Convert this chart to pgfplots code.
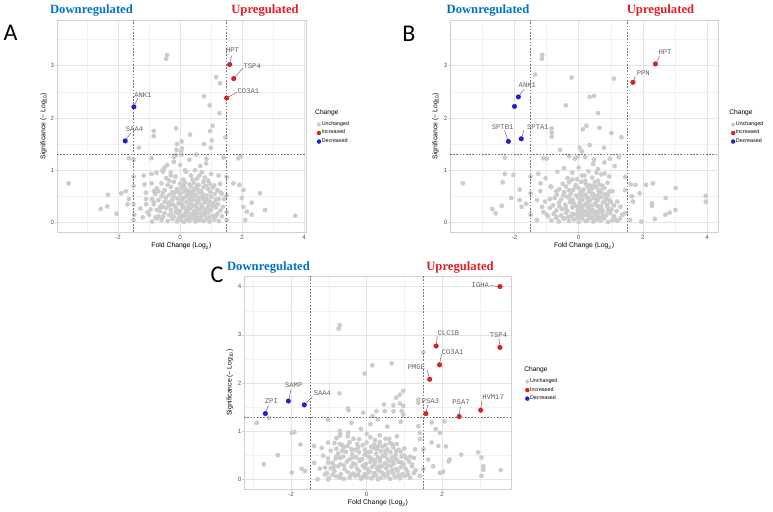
\documentclass[border=0pt]{standalone}
\usepackage{fontspec}
\setmainfont{Liberation Sans}
\newfontfamily\genefont{Liberation Mono}
\newfontfamily\titlefont{Liberation Serif}
\newfontfamily\letterfont{Carlito}
\usepackage{pgfplots}
\pgfplotsset{compat=1.18}

\definecolor{ptgray}{RGB}{204,204,204}
\definecolor{upred}{RGB}{232,30,30}
\definecolor{downblue}{RGB}{30,30,228}
\definecolor{titleblue}{RGB}{0,114,206}
\definecolor{titlered}{RGB}{232,28,36}
\definecolor{gridc}{RGB}{228,228,228}
\definecolor{gridm}{RGB}{241,241,241}
\definecolor{borderc}{RGB}{208,208,208}

\pgfplotsset{legend image code/.code={\draw[#1,mark size=1.5pt] plot coordinates {(0pt,0pt)};}}
\pgfplotsset{
 volc/.style={
  scale only axis, anchor=south west, clip mode=individual,
  axis line style={draw=borderc, line width=0.55pt},
  xmajorgrids, ymajorgrids, xminorgrids, yminorgrids,
  major grid style={draw=gridc, line width=0.45pt},
  minor grid style={draw=gridm, line width=0.3pt},
  major tick style={draw=borderc, line width=0.45pt},
  major tick length=1.6pt, minor tick length=0pt, tick align=outside,
  tick pos=left,
  tick label style={font=\fontsize{4.6}{5}\selectfont, text=black!68},
  xticklabel style={yshift=2.6pt},
  yticklabel style={xshift=3pt},
  label style={font=\fontsize{5.1}{6}\selectfont},
  xlabel={Fold Change (Log\textsubscript{2})},
  ylabel={Significance (− Log\textsubscript{10})},
  xlabel style={at={(axis description cs:0.5,-0.066)}, anchor=center, inner sep=0pt},
  ylabel style={at={(axis description cs:-0.054,0.5)}, anchor=center, inner sep=0pt},
  legend cell align=left,
  legend style={draw=none, fill=none, font=\fontsize{4}{4.5}\selectfont, anchor=north west, inner sep=0pt, row sep=0.8pt, nodes={inner sep=0.6pt}},
  minor xtick={-3,-1,1,3}, minor ytick={0.5,1.5,2.5,3.5},
 },
 gpts/.style={only marks, mark=*, mark size=1.7pt, color=ptgray, mark options={draw=ptgray, fill=ptgray, line width=0.1pt}},
 rpts/.style={only marks, mark=*, mark size=1.75pt, color=upred, mark options={draw=upred!75!black, line width=0.2pt, fill=upred}},
 bpts/.style={only marks, mark=*, mark size=1.75pt, color=downblue, mark options={draw=downblue!75!black, line width=0.2pt, fill=downblue}},
}
\tikzset{
 thr/.style={draw=black!55, line width=0.45pt, dash pattern=on 1.2pt off 1.2pt},
 lnk/.style={draw=black!60, line width=0.35pt},
 gl/.style={font=\genefont\fontsize{5.4}{6}\selectfont, text=black!62, inner sep=0.4pt},
 chg/.style={font=\fontsize{5}{6}\selectfont, anchor=west, inner sep=0pt},
}

\begin{document}
\begin{tikzpicture}
\path[use as bounding box] (0,0) rectangle (579.75pt,-383.25pt);

% ---------------- Panel A ----------------
\begin{axis}[volc, at={(42.75pt,-174pt)}, width=186.75pt, height=159pt,
  xmin=-3.97, xmax=4.06, ymin=-0.18, ymax=3.87,
  xtick={-2,0,2,4}, xticklabels={-2,0,2,4}, ytick={0,1,2,3}, yticklabels={0,1,2,3},
  legend style={at={(axis description cs:1.043,0.526)}}]
\addplot[gpts] coordinates {
(-0.9,0.02) (-0.6,0.05) (-0.4,0.03) (-0.25,0.07) (-0.1,0.02) (0.0,0.05) (0.12,0.01) (0.2,0.06) (0.3,0.03) (0.42,0.08) (0.5,0.02) (0.62,0.05) (0.75,0.03) (0.85,0.07) (0.95,0.02) (1.1,0.06) (1.25,0.03) (-0.75,0.08) (0.35,0.09) (0.05,0.1)
(-1.0,0.15) (-0.7,0.12) (-0.5,0.18) (-0.35,0.14) (-0.2,0.11) (-0.05,0.17) (0.08,0.13) (0.18,0.19) (0.28,0.12) (0.38,0.16) (0.48,0.13) (0.58,0.18) (0.68,0.11) (0.8,0.15) (0.9,0.19) (1.05,0.13) (1.2,0.17) (1.35,0.12) (-0.15,0.2) (0.52,0.2)
(-0.95,0.25) (-0.65,0.22) (-0.45,0.28) (-0.3,0.24) (-0.12,0.26) (0.0,0.22) (0.1,0.29) (0.22,0.24) (0.33,0.27) (0.45,0.22) (0.55,0.28) (0.65,0.25) (0.78,0.21) (0.88,0.27) (1.0,0.24) (1.15,0.29) (1.3,0.23) (-0.55,0.3) (0.27,0.31)
(-0.85,0.35) (-0.6,0.33) (-0.4,0.38) (-0.22,0.34) (-0.05,0.37) (0.08,0.32) (0.2,0.39) (0.32,0.35) (0.42,0.33) (0.55,0.38) (0.68,0.34) (0.8,0.39) (0.92,0.33) (1.08,0.37) (1.22,0.35) (-0.3,0.4) (0.6,0.41)
(-0.9,0.45) (-0.7,0.43) (-0.45,0.48) (-0.25,0.44) (-0.08,0.46) (0.05,0.42) (0.18,0.49) (0.3,0.44) (0.4,0.47) (0.52,0.43) (0.65,0.48) (0.75,0.45) (0.88,0.42) (1.0,0.49) (1.15,0.44) (0.25,0.52)
(-0.8,0.55) (-0.55,0.57) (-0.35,0.53) (-0.15,0.58) (0.0,0.54) (0.12,0.59) (0.25,0.55) (0.38,0.57) (0.5,0.53) (0.62,0.58) (0.72,0.55) (0.85,0.52) (0.98,0.58) (1.12,0.55)
(-0.75,0.65) (-0.5,0.62) (-0.3,0.68) (-0.1,0.64) (0.05,0.67) (0.2,0.63) (0.35,0.69) (0.48,0.65) (0.6,0.62) (0.75,0.68) (0.9,0.64) (1.05,0.67) (1.2,0.62)
(-0.6,0.75) (-0.4,0.72) (-0.2,0.78) (0.0,0.74) (0.15,0.77) (0.3,0.73) (0.45,0.76) (0.6,0.72) (0.75,0.78) (0.95,0.74) (1.1,0.71)
(-0.45,0.85) (-0.15,0.88) (0.1,0.82) (0.35,0.9) (0.55,0.84) (0.8,0.86) (1.0,0.93) (-0.3,0.95) (0.2,0.97) (0.7,0.96)
(-0.5,1.05) (0.0,1.1) (0.3,1.2) (0.65,1.08) (-0.2,1.25) (0.85,1.22)
(-0.8,0.1) (-0.55,0.11) (-0.3,0.16) (-0.05,0.08) (0.15,0.14) (0.25,0.2) (0.4,0.12) (0.55,0.09) (0.7,0.17) (0.82,0.24) (0.95,0.1) (1.15,0.12) (-0.65,0.3) (-0.35,0.32) (-0.15,0.3) (0.05,0.35) (0.15,0.28) (0.38,0.42) (0.5,0.31) (0.72,0.3) (0.85,0.45) (1.05,0.31) (-0.5,0.4) (-0.2,0.5) (0.1,0.47) (0.35,0.5) (0.58,0.47) (0.78,0.5) (0.95,0.4) (1.25,0.45) (-0.6,0.5) (-0.05,0.6) (0.3,0.6) (0.68,0.6) (1.3,0.58) (-0.25,0.58) (0.45,0.62) (0.82,0.7) (-0.85,0.6) (0.12,0.7) (0.55,0.7) (-0.35,0.8) (0.9,0.8) (1.38,0.3) (1.42,0.45) (-1.1,0.35) (-1.2,0.1) (-1.1,0.45) (0.4,0.82) (0.62,0.9)
(-0.42,3.2) (-0.45,3.13) (-0.85,1.75) (-0.85,1.65) (-0.13,1.8) (-0.12,1.39) (-1.33,1.43) (-1.65,1.23) (-1.5,1.2) (-3.6,0.75) (-2.33,0.53) (-2.56,0.26) (-2.35,0.31) (-2.05,0.17) (-1.9,0.56) (-1.75,0.6) (-1.65,0.45) (-1.7,0.35) (-1.5,0.88) (-1.5,0.7) (-1.5,0.35) (-1.48,0.15) (-1.5,0.05) (-1.17,0.9) (-0.92,0.93) (-0.76,0.95) (-0.55,0.97) (-1.15,0.73) (-0.92,0.75) (-0.7,0.6) (-1.1,0.57) (-1.28,0.27) (-1.05,0.2) (-0.85,0.39) (-0.75,0.24) (-0.42,1.1) (-0.2,1.16) (-0.13,1.29) (-0.1,1.5) (-0.92,1.23) (-0.57,1.0) (-0.3,0.9)
(1.16,2.78) (1.29,2.66) (0.77,2.41) (0.95,2.24) (1.27,2.09) (1.05,1.85) (0.97,1.75) (0.32,1.68) (1.02,1.57) (1.46,1.63) (0.77,1.5) (0.99,1.43) (0.05,1.55) (0.06,1.42) (0.03,1.36) (0.05,1.3) (0.52,1.3) (0.84,1.13) (1.96,1.27) (1.88,1.23) (1.4,1.24) (0.16,1.0) (0.48,1.0) (1.24,0.9) (1.29,0.74) (1.34,0.55) (1.5,0.87) (1.5,0.52) (1.5,0.2) (1.5,0.05) (1.72,0.75) (1.91,0.72) (2.04,0.62) (2.58,0.56) (1.99,0.47) (2.31,0.38) (2.04,0.3) (2.74,0.24) (2.15,0.21) (2.31,0.15) (3.71,0.13) (2.1,0.05)
};
\addlegendentry{Unchanged}
\draw[thr] (axis cs:-1.5,-0.18) -- (axis cs:-1.5,3.87);
\draw[thr] (axis cs:1.5,-0.18) -- (axis cs:1.5,3.87);
\draw[thr] (axis cs:-3.97,1.301) -- (axis cs:4.06,1.301);
\draw[lnk] (axis cs:1.6,3.02) -- (axis cs:1.66,3.19);
\draw[lnk] (axis cs:1.73,2.75) -- (axis cs:2.02,2.95);
\draw[lnk] (axis cs:1.5,2.38) -- (axis cs:1.83,2.49);
\draw[lnk] (axis cs:-1.49,2.21) -- (axis cs:-1.36,2.38);
\draw[lnk] (axis cs:-1.77,1.56) -- (axis cs:-1.58,1.72);
\addplot[rpts] coordinates {(1.6,3.02) (1.73,2.75) (1.5,2.38)};
\addlegendentry{Increased}
\addplot[bpts] coordinates {(-1.49,2.21) (-1.77,1.56)};
\addlegendentry{Decreased}
\node[gl] at (axis cs:1.69,3.29) {HPT};
\node[gl,anchor=west] at (axis cs:2.02,2.99) {TSP4};
\node[gl,anchor=west] at (axis cs:1.83,2.51) {CO3A1};
\node[gl] at (axis cs:-1.2,2.44) {ANK1};
\node[gl] at (axis cs:-1.47,1.79) {SAA4};
\node[chg] at (axis description cs:1.036,0.561) {Change};
\end{axis}

% ---------------- Panel B ----------------
\begin{axis}[volc, at={(337.5pt,-174pt)}, width=201pt, height=159pt,
  xmin=-4.01, xmax=4.34, ymin=-0.18, ymax=3.87,
  xtick={-2,0,2,4}, xticklabels={-2,0,2,4}, ytick={0,1,2,3}, yticklabels={0,1,2,3},
  legend style={at={(axis description cs:1.048,0.526)}}]
\addplot[gpts] coordinates {
(-0.85,0.04) (-0.62,0.02) (-0.48,0.08) (-0.3,0.03) (-0.15,0.06) (0.0,0.01) (0.1,0.07) (0.22,0.03) (0.33,0.09) (0.45,0.02) (0.55,0.06) (0.68,0.04) (0.8,0.08) (0.92,0.01) (1.05,0.05) (1.2,0.03) (-0.7,0.09) (0.28,0.05) (-0.05,0.09) (0.62,0.1)
(-0.95,0.12) (-0.78,0.17) (-0.55,0.14) (-0.4,0.19) (-0.22,0.12) (-0.08,0.16) (0.05,0.19) (0.15,0.13) (0.27,0.17) (0.38,0.11) (0.5,0.16) (0.6,0.13) (0.72,0.19) (0.85,0.14) (0.98,0.18) (1.1,0.12) (0.4,0.2) (-0.32,0.11)
(-0.9,0.28) (-0.7,0.23) (-0.52,0.26) (-0.35,0.22) (-0.2,0.29) (-0.03,0.24) (0.08,0.27) (0.2,0.22) (0.3,0.29) (0.42,0.25) (0.53,0.21) (0.65,0.27) (0.75,0.23) (0.9,0.29) (1.02,0.25) (1.18,0.22) (0.13,0.31)
(-0.8,0.33) (-0.62,0.38) (-0.42,0.34) (-0.27,0.39) (-0.1,0.32) (0.03,0.37) (0.18,0.34) (0.28,0.39) (0.4,0.33) (0.5,0.36) (0.63,0.31) (0.75,0.38) (0.88,0.34) (1.0,0.39) (0.57,0.41)
(-0.75,0.47) (-0.55,0.44) (-0.35,0.49) (-0.18,0.43) (-0.02,0.48) (0.12,0.44) (0.25,0.49) (0.36,0.43) (0.48,0.47) (0.6,0.44) (0.72,0.49) (0.85,0.45) (0.97,0.42) (0.1,0.52)
(-0.68,0.53) (-0.45,0.58) (-0.25,0.55) (-0.08,0.52) (0.06,0.57) (0.2,0.53) (0.32,0.59) (0.45,0.55) (0.58,0.52) (0.7,0.58) (0.83,0.54) (0.95,0.59)
(-0.6,0.64) (-0.4,0.69) (-0.18,0.62) (0.0,0.66) (0.15,0.63) (0.28,0.68) (0.4,0.64) (0.55,0.67) (0.68,0.62) (0.8,0.66) (-0.85,0.68)
(-0.5,0.74) (-0.3,0.77) (-0.1,0.72) (0.08,0.78) (0.22,0.74) (0.35,0.71) (0.5,0.77) (0.65,0.73) (0.9,0.76)
(-0.35,0.85) (-0.05,0.83) (0.18,0.9) (0.42,0.86) (0.7,0.92) (0.95,0.88) (0.3,0.98) (-0.2,0.95)
(0.0,1.05) (0.45,1.12) (-0.12,1.22) (0.2,1.25) (0.8,1.15) (0.6,1.02)
(-0.7,0.11) (-0.45,0.08) (-0.2,0.17) (0.0,0.12) (0.12,0.21) (0.3,0.14) (0.45,0.09) (0.6,0.2) (0.75,0.12) (0.92,0.22) (1.12,0.07) (-0.6,0.31) (-0.4,0.28) (-0.15,0.36) (0.0,0.3) (0.25,0.36) (0.35,0.24) (0.55,0.33) (0.7,0.3) (0.82,0.42) (1.1,0.33) (-0.48,0.52) (-0.25,0.45) (0.05,0.42) (0.3,0.46) (0.42,0.52) (0.65,0.5) (0.9,0.51) (1.2,0.4) (-0.9,0.45) (-0.3,0.62) (0.1,0.6) (0.35,0.63) (0.62,0.6) (1.05,0.6) (-0.1,0.68) (0.48,0.7) (0.75,0.7) (-0.7,0.6) (0.2,0.8) (-0.2,0.82) (0.6,0.8) (1.3,0.3) (1.35,0.15) (-1.1,0.2) (-1.05,0.4) (-1.2,0.6) (0.1,0.9) (0.55,0.95)
(-1.14,3.2) (-1.15,3.13) (-1.36,2.83) (-0.22,2.77) (-0.4,2.24) (-0.84,1.8) (-0.84,1.72) (-0.84,1.64) (-0.58,1.39) (-0.3,1.27) (-0.04,1.26) (-1.1,1.23) (-1.0,1.22) (-2.3,1.24) (-3.61,0.75) (-2.3,0.93) (-2.04,0.91) (-2.37,0.77) (-2.1,0.47) (-1.84,0.43) (-1.84,0.63) (-2.69,0.26) (-2.59,0.18) (-2.4,0.32) (-1.78,0.3) (-1.64,0.36) (-1.5,0.88) (-1.5,0.56) (-1.5,0.15) (-1.26,0.93) (-1.19,0.75) (-1.03,0.85) (-0.88,0.69) (-0.67,0.97) (-0.46,1.04) (-1.3,0.43) (-1.14,0.3) (-1.3,0.05) (-0.99,0.15)
(1.1,2.75) (0.34,2.4) (0.48,2.42) (0.6,2.09) (0.24,1.85) (0.13,1.78) (0.65,1.81) (1.02,1.71) (1.33,1.63) (0.34,1.48) (0.79,1.43) (0.03,1.43) (0.1,1.36) (1.25,1.25) (0.97,1.22) (0.48,1.2) (1.12,1.08) (0.81,0.94) (1.62,0.73) (1.77,0.72) (2.1,0.72) (2.31,0.75) (1.9,0.56) (1.69,0.4) (2.28,0.37) (2.28,0.32) (2.71,0.47) (3.02,0.66) (1.66,0.5) (3.96,0.51) (3.96,0.4) (3.01,0.24) (2.83,0.19) (2.7,0.15) (2.37,0.07) (1.95,0.02) (1.6,0.05) (1.29,0.08) (1.45,0.87) (1.45,0.62) (1.45,0.18)
};
\addlegendentry{Unchanged}
\draw[thr] (axis cs:-1.5,-0.18) -- (axis cs:-1.5,3.87);
\draw[thr] (axis cs:1.5,-0.18) -- (axis cs:1.5,3.87);
\draw[thr] (axis cs:-4.01,1.301) -- (axis cs:4.34,1.301);
\draw[lnk] (axis cs:2.39,3.03) -- (axis cs:2.52,3.17);
\draw[lnk] (axis cs:1.69,2.68) -- (axis cs:1.77,2.8);
\draw[lnk] (axis cs:-1.88,2.4) -- (axis cs:-1.7,2.55);
\draw[lnk] (axis cs:-2.19,1.55) -- (axis cs:-2.31,1.76);
\draw[lnk] (axis cs:-1.79,1.6) -- (axis cs:-1.71,1.76);
\addplot[rpts] coordinates {(2.39,3.03) (1.69,2.68)};
\addlegendentry{Increased}
\addplot[bpts] coordinates {(-1.88,2.4) (-2.0,2.22) (-2.19,1.55) (-1.79,1.6)};
\addlegendentry{Decreased}
\node[gl] at (axis cs:2.69,3.26) {HPT};
\node[gl] at (axis cs:2.01,2.86) {PPN};
\node[gl] at (axis cs:-1.6,2.63) {ANK1};
\node[gl] at (axis cs:-2.37,1.83) {SPTB1};
\node[gl] at (axis cs:-1.27,1.83) {SPTA1};
\node[chg] at (axis description cs:1.041,0.561) {Change};
\end{axis}

% ---------------- Panel C ----------------
\begin{axis}[volc, at={(183.15pt,-366.7pt)}, width=200.6pt, height=159.4pt,
  xmin=-3.24, xmax=3.84, ymin=-0.19, ymax=4.21,
  xtick={-2,0,2}, xticklabels={-2,0,2}, ytick={0,1,2,3,4}, yticklabels={0,1,2,3,4},
  legend style={at={(axis description cs:1.05,0.524)}}]
\addplot[gpts] coordinates {
(-1.0,0.03) (-0.8,0.07) (-0.6,0.02) (-0.45,0.05) (-0.3,0.08) (-0.15,0.02) (0.0,0.06) (0.12,0.03) (0.25,0.09) (0.38,0.04) (0.5,0.07) (0.62,0.02) (0.75,0.06) (0.88,0.03) (1.0,0.08) (1.15,0.04) (-0.22,0.1) (0.3,0.01)
(-1.05,0.14) (-0.85,0.18) (-0.68,0.12) (-0.5,0.16) (-0.35,0.13) (-0.2,0.18) (-0.05,0.12) (0.08,0.17) (0.2,0.14) (0.32,0.19) (0.45,0.12) (0.58,0.16) (0.7,0.13) (0.82,0.18) (0.95,0.12) (1.08,0.17) (1.25,0.14)
(-0.95,0.24) (-0.75,0.28) (-0.58,0.22) (-0.4,0.27) (-0.25,0.23) (-0.1,0.29) (0.03,0.22) (0.15,0.27) (0.28,0.23) (0.4,0.28) (0.52,0.24) (0.65,0.29) (0.78,0.22) (0.9,0.26) (1.03,0.23) (1.2,0.28)
(-0.9,0.35) (-0.7,0.32) (-0.52,0.38) (-0.35,0.34) (-0.18,0.39) (-0.02,0.33) (0.1,0.37) (0.22,0.32) (0.35,0.38) (0.48,0.34) (0.6,0.39) (0.72,0.33) (0.85,0.37) (0.98,0.32) (1.12,0.38)
(-0.82,0.44) (-0.62,0.48) (-0.45,0.42) (-0.28,0.47) (-0.12,0.43) (0.05,0.48) (0.18,0.42) (0.3,0.46) (0.42,0.49) (0.55,0.43) (0.68,0.47) (0.8,0.42) (0.93,0.48) (1.05,0.44)
(-0.75,0.54) (-0.55,0.58) (-0.38,0.53) (-0.2,0.57) (-0.05,0.52) (0.1,0.58) (0.25,0.54) (0.38,0.59) (0.5,0.53) (0.63,0.57) (0.77,0.52) (0.9,0.58)
(-0.8,0.64) (-0.6,0.68) (-0.4,0.63) (-0.22,0.67) (-0.05,0.62) (0.12,0.68) (0.28,0.64) (0.42,0.69) (0.55,0.63) (0.7,0.67) (0.85,0.62)
(-0.85,0.76) (-0.65,0.72) (-0.45,0.78) (-0.25,0.74) (0.0,0.77) (0.2,0.73) (0.35,0.78) (0.5,0.72) (0.62,0.76) (0.8,0.74)
(-0.8,0.86) (-0.5,0.9) (-0.2,0.84) (0.1,0.88) (0.35,0.92) (0.6,0.85) (-0.7,0.95) (0.8,0.9)
(-0.15,1.05) (0.1,1.15) (0.3,1.25) (0.55,1.1) (-0.4,1.18) (0.9,1.2)
(-0.9,0.1) (-0.7,0.04) (-0.4,0.11) (-0.1,0.06) (0.05,0.15) (0.18,0.08) (0.4,0.15) (0.55,0.1) (0.68,0.2) (0.85,0.09) (1.1,0.1) (-0.85,0.28) (-0.6,0.3) (-0.3,0.32) (-0.05,0.25) (0.22,0.38) (0.33,0.27) (0.55,0.3) (0.68,0.38) (0.92,0.36) (1.2,0.32) (-0.7,0.45) (-0.38,0.46) (-0.2,0.42) (0.1,0.45) (0.35,0.42) (0.48,0.5) (0.75,0.45) (1.0,0.5) (1.15,0.48) (-0.65,0.6) (-0.3,0.62) (0.02,0.57) (0.2,0.65) (0.5,0.6) (0.78,0.6) (1.0,0.65) (-0.5,0.7) (-0.1,0.72) (0.3,0.7) (0.68,0.74) (-0.35,0.85) (0.22,0.82) (0.5,0.85) (-1.1,0.25) (-1.15,0.5) (1.3,0.2) (1.25,0.45) (-0.95,0.6) (0.0,0.95)
(-0.71,3.2) (-0.74,3.13) (-0.72,1.79) (-0.49,1.48) (-0.48,1.44) (-1.02,1.24) (-2.91,1.18) (-2.58,1.28) (-1.98,0.97) (-1.91,0.99) (-1.75,0.73) (-2.35,0.51) (-2.72,0.32) (-1.98,0.15) (-1.72,0.23) (-1.63,0.18) (-1.39,0.7) (-1.19,0.66) (-1.02,0.77) (-0.71,0.74) (-0.71,0.91) (-0.49,0.98) (-0.71,1.01) (-1.39,0.35) (-1.24,0.23) (-1.1,0.11) (-1.3,0.01) (-1.02,0.01) (-0.71,0.08) (-0.9,0.25) (-1.02,0.44) (-0.8,0.49) (-1.02,0.35)
(1.5,2.64) (0.15,2.37) (0.66,2.41) (-0.05,2.2) (0.97,1.84) (0.88,1.76) (0.78,1.7) (0.46,1.56) (0.71,1.54) (0.88,1.58) (0.97,1.53) (1.37,1.66) (1.37,1.59) (0.16,1.32) (0.26,1.42) (0.48,1.42) (0.71,1.42) (0.93,1.42) (0.97,1.35) (-0.09,1.39) (1.72,1.19) (1.83,1.05) (1.72,0.77) (1.9,0.7) (1.94,0.97) (2.95,0.57) (3.09,0.28) (3.09,0.21) (3.04,0.08) (3.04,0.46) (1.76,0.28) (1.94,0.14) (2.2,0.42) (1.37,1.11) (1.41,0.97) (1.41,0.84) (1.28,0.63) (1.5,0.63) (1.63,0.42) (1.5,0.22) (1.41,0.08) (3.55,0.2) (2.5,0.52) (2.06,1.21) (2.1,0.69) (2.17,0.38) (2.03,0.17)
};
\addlegendentry{Unchanged}
\draw[thr] (axis cs:-1.5,-0.19) -- (axis cs:-1.5,4.21);
\draw[thr] (axis cs:1.5,-0.19) -- (axis cs:1.5,4.21);
\draw[thr] (axis cs:-3.24,1.301) -- (axis cs:3.84,1.301);
\draw[lnk] (axis cs:3.27,4.02) -- (axis cs:3.53,4.0);
\draw[lnk] (axis cs:3.53,2.74) -- (axis cs:3.5,2.93);
\draw[lnk] (axis cs:1.84,2.77) -- (axis cs:1.87,2.98);
\draw[lnk] (axis cs:1.93,2.38) -- (axis cs:1.98,2.6);
\draw[lnk] (axis cs:1.67,2.08) -- (axis cs:1.6,2.28);
\draw[lnk] (axis cs:1.57,1.37) -- (axis cs:1.62,1.55);
\draw[lnk] (axis cs:2.45,1.31) -- (axis cs:2.48,1.52);
\draw[lnk] (axis cs:3.02,1.44) -- (axis cs:3.05,1.64);
\draw[lnk] (axis cs:-2.68,1.37) -- (axis cs:-2.6,1.54);
\draw[lnk] (axis cs:-2.07,1.63) -- (axis cs:-2.0,1.87);
\draw[lnk] (axis cs:-1.65,1.55) -- (axis cs:-1.43,1.72);
\addplot[rpts] coordinates {(3.53,4.0) (3.53,2.74) (1.84,2.77) (1.93,2.38) (1.67,2.08) (1.57,1.37) (2.45,1.31) (3.02,1.44)};
\addlegendentry{Increased}
\addplot[bpts] coordinates {(-2.68,1.37) (-2.07,1.63) (-1.65,1.55)};
\addlegendentry{Decreased}
\node[gl,anchor=east] at (axis cs:3.26,4.03) {IGHA};
\node[gl] at (axis cs:3.49,3.0) {TSP4};
\node[gl,anchor=west] at (axis cs:1.86,3.03) {CLC1B};
\node[gl,anchor=west] at (axis cs:1.97,2.64) {CO3A1};
\node[gl] at (axis cs:1.32,2.34) {PMGE};
\node[gl] at (axis cs:1.69,1.62) {PSA3};
\node[gl] at (axis cs:2.5,1.6) {PSA7};
\node[gl,anchor=west] at (axis cs:3.04,1.72) {HVM17};
\node[gl] at (axis cs:-2.52,1.62) {ZPI};
\node[gl] at (axis cs:-1.93,1.95) {SAMP};
\node[gl,anchor=west] at (axis cs:-1.42,1.79) {SAA4};
\node[chg] at (axis description cs:1.046,0.56) {Change};
\end{axis}

% ---------------- titles and panel letters ----------------
\begin{scope}[x=0.75pt,y=-0.75pt]
\tikzset{ttl/.style={font=\titlefont\bfseries\fontsize{9.5}{10}\selectfont, inner sep=0pt}}
\node[ttl, text=titleblue] at (91.5,10.5) {Downregulated};
\node[ttl, text=titlered] at (265,10.5) {Upregulated};
\node[ttl, text=titleblue] at (488,10.5) {Downregulated};
\node[ttl, text=titlered] at (660.5,10.5) {Upregulated};
\node[ttl, text=titleblue] at (268.5,267) {Downregulated};
\node[ttl, text=titlered] at (460,267) {Upregulated};
\tikzset{ltr/.style={font=\letterfont\fontsize{18}{20}\selectfont, inner sep=0pt}}
\node[ltr] at (10.5,33) {A};
\node[ltr] at (409,33.5) {B};
\node[ltr] at (217,275) {C};
\end{scope}
\end{tikzpicture}
\end{document}
